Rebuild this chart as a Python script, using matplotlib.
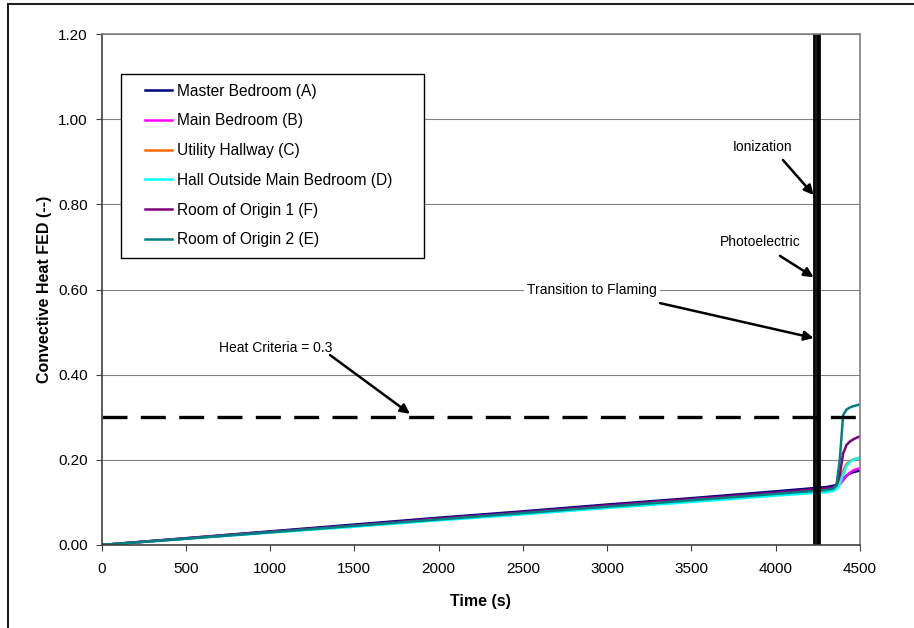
import matplotlib
matplotlib.use("Agg")
import matplotlib.pyplot as plt
from matplotlib.patches import Rectangle

plt.rcParams['font.family'] = ['Liberation Sans', 'DejaVu Sans']

# Time stamps (s) and convective heat FED per location
time_s = [0, 500, 1000, 1500, 2000, 2500, 3000, 3500, 4000, 4300,
          4340, 4360, 4380, 4400, 4420, 4440, 4460, 4480, 4500]
fed_a = [0, 0.016, 0.032, 0.048, 0.064, 0.079, 0.095, 0.110, 0.126, 0.136,
         0.139, 0.141, 0.146, 0.155, 0.163, 0.168, 0.171, 0.173, 0.175]
fed_b = [0, 0.015, 0.030, 0.045, 0.060, 0.075, 0.090, 0.105, 0.120, 0.130,
         0.133, 0.136, 0.142, 0.152, 0.162, 0.170, 0.175, 0.178, 0.180]
fed_c = [0, 0.015, 0.030, 0.045, 0.060, 0.075, 0.090, 0.104, 0.119, 0.128,
         0.131, 0.136, 0.150, 0.175, 0.190, 0.197, 0.201, 0.203, 0.205]
fed_d = [0, 0.0145, 0.029, 0.043, 0.058, 0.072, 0.087, 0.101, 0.116, 0.124,
         0.127, 0.131, 0.142, 0.165, 0.185, 0.195, 0.200, 0.203, 0.205]
fed_f = [0, 0.0155, 0.031, 0.046, 0.062, 0.077, 0.093, 0.108, 0.123, 0.133,
         0.136, 0.140, 0.165, 0.215, 0.235, 0.243, 0.248, 0.252, 0.255]
fed_e = [0, 0.015, 0.030, 0.045, 0.060, 0.075, 0.090, 0.105, 0.120, 0.129,
         0.132, 0.140, 0.200, 0.305, 0.318, 0.323, 0.326, 0.328, 0.330]

series = [
    ('Master Bedroom (A)', fed_a, '#000080'),
    ('Main Bedroom (B)', fed_b, '#FF00FF'),
    ('Utility Hallway (C)', fed_c, '#FF6600'),
    ('Hall Outside Main Bedroom (D)', fed_d, '#00FFFF'),
    ('Room of Origin 1 (F)', fed_f, '#800080'),
    ('Room of Origin 2 (E)', fed_e, '#008080'),
]

heat_criteria = 0.3
alarm_times = [4230, 4242, 4254]   # ionization, photoelectric, transition to flaming

fig = plt.figure(figsize=(9.14, 6.28), dpi=100)
ax = fig.add_axes([101.5 / 914, 83 / 628, 758.5 / 914, 511 / 628])

# outer chart frame
fig.patches.append(Rectangle((8 / 914, -0.1), 1.2, 1.1 - 4 / 628,
                             transform=fig.transFigure, fill=False,
                             edgecolor='#202020', linewidth=1.5))

ax.grid(axis='y', color='#808080', linewidth=0.8)
ax.set_axisbelow(True)

lines = []
for label, vals, col in series:
    ln, = ax.plot(time_s, vals, color=col, linewidth=1.8, label=label)
    lines.append(ln)

ax.axhline(heat_criteria, color='black', linewidth=2.4, dashes=(7.5, 4))
for t in alarm_times:
    ax.axvline(t, color='black', linewidth=2.0)

ax.set_xlim(0, 4500)
ax.set_ylim(0, 1.2)
ax.set_xticks(range(0, 4501, 500))
ax.set_yticks([0, 0.2, 0.4, 0.6, 0.8, 1.0, 1.2])
ax.set_yticklabels(['%.2f' % v for v in ax.get_yticks()])
ax.tick_params(labelsize=11, length=4, color='#404040')
ax.tick_params(axis='y', pad=6)
ax.tick_params(axis='x', pad=8)
for s in ['left', 'bottom']:
    ax.spines[s].set_color('#404040')
    ax.spines[s].set_linewidth(1.2)
for s in ['top', 'right']:
    ax.spines[s].set_color('#808080')
    ax.spines[s].set_linewidth(1.2)

ax.set_xlabel('Time (s)', fontsize=11.5, fontweight='bold', labelpad=13)
ax.set_ylabel('Convective Heat FED (--)', fontsize=11.5, fontweight='bold',
              labelpad=4)

# legend with a square black frame
ax.add_patch(Rectangle((0.0257, 0.562), 0.4, 0.36, transform=ax.transAxes,
                       facecolor='white', edgecolor='black', linewidth=1.0,
                       zorder=4))
leg = ax.legend(handles=lines, loc='upper left', bbox_to_anchor=(0.057, 0.903),
                frameon=False, fontsize=11.2, borderpad=0, borderaxespad=0,
                handlelength=1.75, handletextpad=0.3, labelspacing=0.95)
leg.set_zorder(5)

arrow = dict(arrowstyle='-|>', color='black', linewidth=1.8, mutation_scale=14,
             shrinkA=0, shrinkB=0)
txt = dict(fontsize=10, ha='center', va='center',
           bbox=dict(facecolor='white', edgecolor='none', pad=2))

ax.text(3919, 0.935, 'Ionization', **txt)
ax.annotate('', xy=(4225, 0.822), xytext=(4043, 0.904), arrowprops=arrow)
ax.text(3907, 0.712, 'Photoelectric', **txt)
ax.annotate('', xy=(4225, 0.629), xytext=(4025, 0.679), arrowprops=arrow)
ax.text(2910, 0.599, 'Transition to Flaming', **txt)
ax.annotate('', xy=(4225, 0.486), xytext=(3314, 0.568), arrowprops=arrow)
ax.text(1035, 0.462, 'Heat Criteria = 0.3', **txt)
ax.annotate('', xy=(1830, 0.308), xytext=(1356, 0.446), arrowprops=arrow)

fig.savefig('out.png', dpi=100)
